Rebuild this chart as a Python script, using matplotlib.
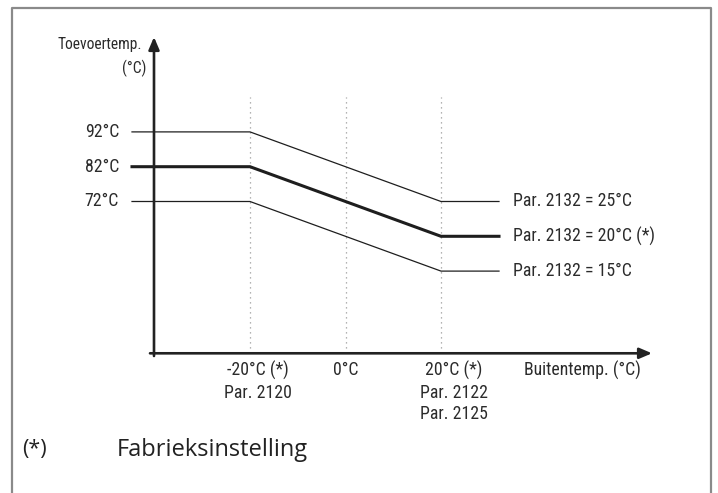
import matplotlib
matplotlib.use("Agg")
import matplotlib.pyplot as plt
from matplotlib.lines import Line2D

# ---- data ----
outdoor_breaks = [-20, 20]            # outdoor temperature break points (°C)
supply_at_low = [92, 82, 72]          # supply temp at -20 °C outdoor
supply_at_high = [72, 62, 52]         # supply temp at +20 °C outdoor
series_labels = ["Par. 2132 = 25°C", "Par. 2132 = 20°C (*)", "Par. 2132 = 15°C"]
series_widths = [0.9, 2.2, 0.9]
y_tick_labels = ["92°C", "82°C", "72°C"]
x_ticks = [-20, 0, 20]
x_tick_labels = ["-20°C (*)\nPar. 2120", "0°C", "20°C (*)\nPar. 2122\nPar. 2125"]

W, H = 718, 493
fig = plt.figure(figsize=(W / 100, H / 100), dpi=100)

# pixel layout of the data axes (reference geometry)
PX_PER_X = 4.775      # px per °C outdoor
PX_PER_Y = 3.48       # px per °C supply
X_REF_PX, X_REF_VAL = 250.0, -20.0
Y_REF_PX, Y_REF_VAL = 166.7, 82.0

xmin = X_REF_VAL - X_REF_PX / PX_PER_X
xmax = X_REF_VAL + (W - X_REF_PX) / PX_PER_X
ymax = Y_REF_VAL + Y_REF_PX / PX_PER_Y
ymin = Y_REF_VAL - (H - Y_REF_PX) / PX_PER_Y

ax = fig.add_axes([0, 0, 1, 1])
ax.set_xlim(xmin, xmax)
ax.set_ylim(ymin, ymax)
ax.axis("off")

def dx(px):
    return X_REF_VAL + (px - X_REF_PX) / PX_PER_X

def dy(py):
    return Y_REF_VAL - (py - Y_REF_PX) / PX_PER_Y

def ftext(px, py, s, **kw):
    fig.text(px / W, 1 - py / H, s, **kw)

text_color = "#2b2b2b"
font = ["Roboto Condensed", "Archivo Narrow", "DejaVu Sans"]
fw = "normal"
fs = 12.8

# frame
frame_col = "#8a8a8a"
fig.add_artist(Line2D([11.5 / W, 11.5 / W, 711 / W, 711 / W],
                      [0, 1 - 7.5 / H, 1 - 7.5 / H, 0],
                      transform=fig.transFigure, color=frame_col, lw=1.6))

# axes origin (layout)
x_origin = dx(154)
y_origin = dy(353.3)

# dotted verticals
for xt in x_ticks:
    ax.plot([xt, xt], [y_origin, dy(97)], color="#9a9a9a", lw=0.9,
            linestyle=(0, (1, 3)), zorder=1)

# curves
x_start, x_end = dx(132), dx(499)
for lo, hi, lw in zip(supply_at_low, supply_at_high, series_widths):
    ax.plot([x_start, outdoor_breaks[0], outdoor_breaks[1], x_end],
            [lo, lo, hi, hi], color="#1e1e1e", lw=lw, solid_joinstyle="miter",
            zorder=3)

# axes with arrows
axis_col = "#222222"
ax.annotate("", xy=(x_origin, dy(37)), xytext=(x_origin, dy(356)),
            arrowprops=dict(arrowstyle="-|>,head_length=0.75,head_width=0.32",
                            lw=1.9, color=axis_col, shrinkA=0, shrinkB=0,
                            mutation_scale=10), zorder=4)
ax.annotate("", xy=(dx(652), y_origin), xytext=(dx(150), y_origin),
            arrowprops=dict(arrowstyle="-|>,head_length=0.75,head_width=0.32",
                            lw=1.9, color=axis_col, shrinkA=0, shrinkB=0,
                            mutation_scale=10), zorder=4)

# y labels
for val, lab in zip(supply_at_low, y_tick_labels):
    ax.annotate(lab, xy=(x_start, val), xytext=(-13, 0), textcoords="offset pixels",
                ha="right", va="center", fontsize=fs, color=text_color, family=font,
                fontweight=fw)

# right series labels
for val, lab in zip(supply_at_high, series_labels):
    ax.annotate(lab, xy=(x_end, val), xytext=(14, 0), textcoords="offset pixels",
                ha="left", va="center", fontsize=fs, color=text_color, family=font,
                fontweight=fw)

# x tick labels
x_label_shift = [8, 0, 13]
for xt, lab, sh in zip(x_ticks, x_tick_labels, x_label_shift):
    ax.annotate(lab, xy=(xt, y_origin), xytext=(sh, -8), textcoords="offset pixels",
                ha="center", va="top", fontsize=fs, color=text_color, family=font,
                linespacing=1.25, multialignment="center", fontweight=fw)

# axis titles
ftext(524, 370, "Buitentemp. (°C)", ha="left", va="center", fontsize=fs,
      color=text_color, family=font, fontweight=fw)
ftext(142, 45, "Toevoertemp.", ha="right", va="center", fontsize=11.2,
      color=text_color, family=font, fontweight=fw)
ftext(146, 68, "(°C)", ha="right", va="center", fontsize=11.2,
      color=text_color, family=font, fontweight=fw)

# footnote
foot_font = ["Open Sans", "DejaVu Sans"]
ftext(22, 450, "(*)", ha="left", va="center", fontsize=15.5, color="#222222",
      family=foot_font, fontweight="medium")
ftext(117, 450, "Fabrieksinstelling", ha="left", va="center", fontsize=17,
      color="#222222", family=foot_font)

fig.savefig("out.png", dpi=100)
